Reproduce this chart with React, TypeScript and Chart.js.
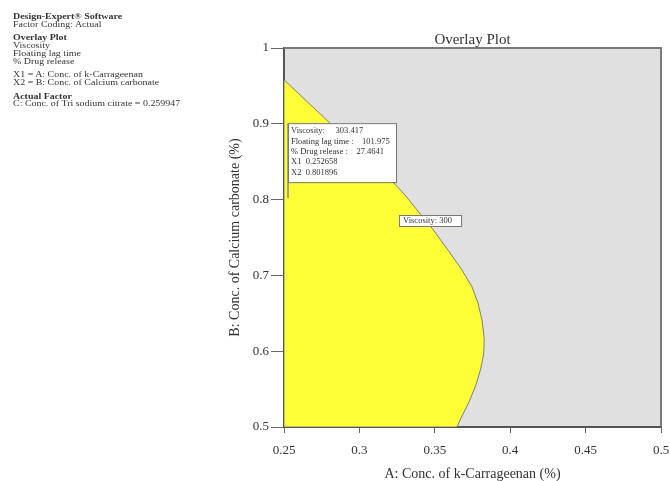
import React, { useEffect, useRef } from 'react';
import { Chart, registerables } from 'chart.js';

Chart.register(...registerables);

const FONT = "'Liberation Serif', 'Times New Roman', serif";

const xTicks = [0.25, 0.3, 0.35, 0.4, 0.45, 0.5];
const yTicks = [0.5, 0.6, 0.7, 0.8, 0.9, 1];
const xTickLabels = ['0.25', '0.3', '0.35', '0.4', '0.45', '0.5'];
const yTickLabels = ['0.5', '0.6', '0.7', '0.8', '0.9', '1'];

// Boundary of the feasible (yellow) region
const regionX = [
  0.25, 0.25, 0.281, 0.3223, 0.3302, 0.3382, 0.3481, 0.3601, 0.368, 0.3747, 0.3786,
  0.3813, 0.3828, 0.3824, 0.3806, 0.3773, 0.3727, 0.3674, 0.3647, 0.25,
];
const regionY = [
  0.5, 0.958, 0.9, 0.8232, 0.8061, 0.7863, 0.7625, 0.7296, 0.7071, 0.6847, 0.6636,
  0.6412, 0.6164, 0.5966, 0.5778, 0.5554, 0.533, 0.5119, 0.5, 0.5,
];

const flagX = 0.252658;
const flagY = 0.801896;
const flagLines = [
  'Viscosity:     303.417',
  'Floating lag time :    101.975',
  '% Drug release :    27.4641',
  'X1  0.252658',
  'X2  0.801896',
];

const contourLabel = 'Viscosity: 300';
const contourLabelX = 0.3263;
const contourLabelY = 0.7797;

const sideLines: { t: string; b?: boolean; gap?: boolean }[] = [
  { t: 'Design-Expert® Software', b: true },
  { t: 'Factor Coding: Actual' },
  { t: 'Overlay Plot', b: true, gap: true },
  { t: 'Viscosity' },
  { t: 'Floating lag time' },
  { t: '% Drug release' },
  { t: 'X1 = A: Conc. of k-Carrageenan', gap: true },
  { t: 'X2 = B: Conc. of Calcium carbonate' },
  { t: 'Actual Factor', b: true, gap: true },
  { t: 'C: Conc. of Tri sodium citrate = 0.259947' },
];

const overlayPlugin = {
  id: 'overlayDecor',
  beforeDraw(chart: any) {
    const { ctx, chartArea: a } = chart;
    ctx.save();
    ctx.fillStyle = '#e0e0e0';
    ctx.fillRect(a.left, a.top, a.right - a.left, a.bottom - a.top);
    ctx.restore();
  },
  afterDraw(chart: any) {
    const { ctx, chartArea: a, scales } = chart;
    ctx.save();
    // frame top / right
    ctx.strokeStyle = '#7a7a7a';
    ctx.lineWidth = 2;
    ctx.beginPath();
    ctx.moveTo(a.left, a.top);
    ctx.lineTo(a.right, a.top);
    ctx.lineTo(a.right, a.bottom);
    ctx.stroke();

    // title
    ctx.fillStyle = '#333';
    ctx.font = `15px ${FONT}`;
    ctx.textAlign = 'center';
    ctx.textBaseline = 'alphabetic';
    ctx.fillText('Overlay Plot', (a.left + a.right) / 2, a.top - 4);

    // flag
    const px = scales.x.getPixelForValue(flagX);
    const py = scales.y.getPixelForValue(flagY);
    const bw = 108, bh = 59, top = py - 75;
    ctx.strokeStyle = '#888';
    ctx.lineWidth = 1.5;
    ctx.beginPath();
    ctx.moveTo(px, py);
    ctx.lineTo(px, top);
    ctx.stroke();
    ctx.fillStyle = '#fff';
    ctx.fillRect(px, top, bw, bh);
    ctx.strokeStyle = '#777';
    ctx.lineWidth = 1;
    ctx.strokeRect(px + 0.5, top + 0.5, bw, bh);
    ctx.fillStyle = '#333';
    ctx.font = `8.5px ${FONT}`;
    ctx.textAlign = 'left';
    ctx.textBaseline = 'middle';
    flagLines.forEach((l, i) => {
      ctx.fillText(l.replace(/ {2,}/g, (m: string) => '\u00a0'.repeat(m.length)), px + 3, top + 8 + i * 10.3);
    });

    // contour label
    const lx = scales.x.getPixelForValue(contourLabelX);
    const ly = scales.y.getPixelForValue(contourLabelY);
    ctx.font = `8.5px ${FONT}`;
    const tw = ctx.measureText(contourLabel).width;
    const w = Math.max(62, tw + 8);
    ctx.fillStyle = '#fff';
    ctx.fillRect(lx, ly, w, 11);
    ctx.strokeStyle = '#777';
    ctx.strokeRect(lx + 0.5, ly + 0.5, w, 11);
    ctx.fillStyle = '#333';
    ctx.fillText(contourLabel, lx + 4, ly + 6);
    ctx.restore();
  },
};

export default function App() {
  const ref = useRef<HTMLCanvasElement>(null);
  useEffect(() => {
    if (!ref.current) return;
    const chart = new Chart(ref.current, {
      type: 'scatter',
      data: {
        datasets: [
          {
            data: regionX.map((x, i) => ({ x, y: regionY[i] })),
            showLine: true,
            fill: 'shape',
            backgroundColor: '#ffff38',
            borderColor: '#808080',
            borderWidth: 1,
            pointRadius: 0,
            tension: 0,
          } as any,
        ],
      },
      plugins: [overlayPlugin],
      options: {
        animation: false,
        responsive: false,
        devicePixelRatio: 1,
        layout: { padding: { left: 223, top: 48, right: 9, bottom: -2 } },
        plugins: { legend: { display: false }, tooltip: { enabled: false }, title: { display: false } },
        scales: {
          x: {
            type: 'linear',
            min: 0.25,
            max: 0.5,
            afterBuildTicks: (s: any) => { s.ticks = xTicks.map((v) => ({ value: v })); },
            afterFit: (s: any) => { s.height = 56; s.paddingLeft = 0; s.paddingRight = 0; },
            ticks: {
              callback: (_v: any, i: number) => xTickLabels[i],
              font: { family: FONT, size: 13 },
              color: '#333',
              padding: 10,
              maxRotation: 0,
              autoSkip: false,
            },
            grid: { drawOnChartArea: false, drawTicks: true, tickLength: 6, color: '#666' },
            border: { display: true, color: '#555', width: 2 },
            title: {
              display: true,
              text: 'A: Conc. of k-Carrageenan (%)',
              font: { family: FONT, size: 14 },
              color: '#333',
              padding: 0,
            },
          },
          y: {
            type: 'linear',
            min: 0.5,
            max: 1,
            afterBuildTicks: (s: any) => { s.ticks = yTicks.map((v) => ({ value: v })); },
            afterFit: (s: any) => { s.width = 61; s.paddingTop = 0; s.paddingBottom = 0; },
            ticks: {
              callback: (_v: any, i: number) => yTickLabels[i],
              font: { family: FONT, size: 13 },
              color: '#333',
              padding: 2,
              autoSkip: false,
            },
            grid: { drawOnChartArea: false, drawTicks: true, tickLength: 13, color: '#666' },
            border: { display: true, color: '#555', width: 2 },
            title: {
              display: true,
              text: 'B: Conc. of Calcium carbonate (%)',
              font: { family: FONT, size: 14 },
              color: '#333',
              padding: 4,
            },
          },
        },
      } as any,
    });
    return () => chart.destroy();
  }, []);

  return (
    <div style={{ position: 'fixed', left: 0, top: 0, width: 670, height: 481, background: '#fff' }}>
      <canvas ref={ref} width={670} height={481} style={{ position: 'absolute', left: 0, top: 0 }} />
      <div
        style={{
          position: 'absolute',
          left: 13,
          top: 13,
          fontFamily: FONT,
          fontSize: 8.5,
          lineHeight: '7.7px',
          color: '#333',
          whiteSpace: 'nowrap',
          transform: 'scaleX(1.17)',
          transformOrigin: '0 0',
        }}
      >
        {sideLines.map((l, i) => (
          <div key={i} style={{ fontWeight: l.b ? 'bold' : 'normal', marginTop: l.gap ? 6 : 0 }}>
            {l.t}
          </div>
        ))}
      </div>
    </div>
  );
}
